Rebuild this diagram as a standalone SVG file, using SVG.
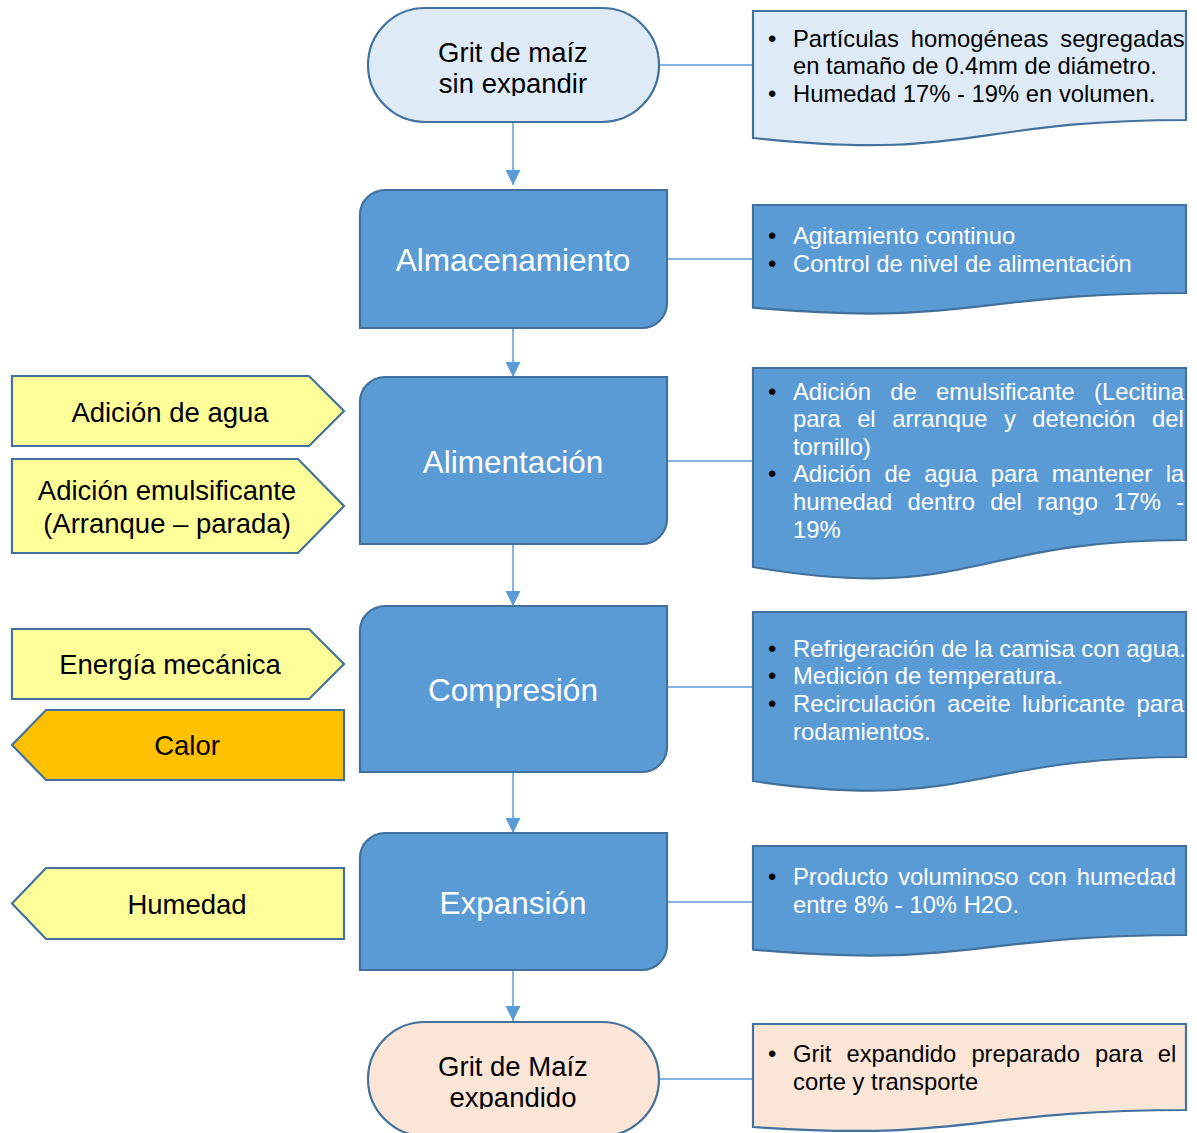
<svg xmlns="http://www.w3.org/2000/svg" width="1197" height="1133" viewBox="0 0 1197 1133">
  <style>
    .conn { stroke: #5b9bd5; stroke-width: 1.5; fill: none; }
    .shape { stroke: #41719c; stroke-width: 2.2; }
    .light { fill: #deebf7; }
    .main { fill: #5b9bd5; }
    .peach { fill: #fbe5d6; }
    .yellow { fill: #ffff99; }
    .orange { fill: #ffc000; }
    text { font-family: "Liberation Sans", Arial, sans-serif; }
    .term { font-size: 27.5px; fill: #000; text-anchor: middle; }
    .proc { font-size: 31.5px; fill: #fff; text-anchor: middle; }
    .side { font-size: 27.5px; fill: #000; text-anchor: middle; }
    .note { font-size: 23.8px; }
    .dark { fill: #000; }
    .white { fill: #fff; }
    .bul { fill: #000; font-size: 23.8px; }
  </style>
  <defs>
    <marker id="arrow" markerUnits="userSpaceOnUse" markerWidth="16" markerHeight="16" refX="15" refY="7.5" orient="auto">
      <path d="M0,0 L15,7.5 L0,15 Z" fill="#5b9bd5"/>
    </marker>
    <clipPath id="clipTop"><rect x="368" y="8" width="291" height="88"/></clipPath>
    <clipPath id="clipBottom"><rect x="368" y="1022" width="291" height="87"/></clipPath>
    <clipPath id="clipFeed"><rect x="753" y="368" width="433" height="170"/></clipPath>
  </defs>

  <!-- connectors -->
  <g id="connectors">
    <line class="conn" x1="513" y1="122" x2="513" y2="185" marker-end="url(#arrow)"/>
    <line class="conn" x1="513" y1="328" x2="513" y2="377" marker-end="url(#arrow)"/>
    <line class="conn" x1="513" y1="544" x2="513" y2="606" marker-end="url(#arrow)"/>
    <line class="conn" x1="513" y1="772" x2="513" y2="833" marker-end="url(#arrow)"/>
    <line class="conn" x1="513" y1="970" x2="513" y2="1021" marker-end="url(#arrow)"/>
    <line class="conn" x1="659" y1="65" x2="753" y2="65"/>
    <line class="conn" x1="667" y1="259" x2="753" y2="259"/>
    <line class="conn" x1="667" y1="461" x2="753" y2="461"/>
    <line class="conn" x1="667" y1="687" x2="753" y2="687"/>
    <line class="conn" x1="667" y1="902" x2="753" y2="902"/>
    <line class="conn" x1="659" y1="1079" x2="753" y2="1079"/>
  </g>

  <!-- start terminal -->
  <g id="start">
    <rect class="shape light" x="368" y="8" width="291" height="114" rx="57" ry="57"/>
    <g clip-path="url(#clipTop)">
      <text class="term" x="513" y="62">Grit de maíz</text>
      <text class="term" x="513" y="93">sin expandir</text>
    </g>
  </g>

  <g id="note-start">
    <path class="shape light" d="M753,11 H1186 V120 C969.5,120 969.5,161.6 753,138 Z"/>
    <text class="bul" x="768" y="47">•</text>
    <text class="note dark" x="793" y="47" word-spacing="5.3">Partículas homogéneas segregadas</text>
    <text class="note dark" x="793" y="74">en tamaño de 0.4mm de diámetro.</text>
    <text class="bul" x="768" y="102">•</text>
    <text class="note dark" x="793" y="102">Humedad 17% - 19% en volumen.</text>
  </g>

  <!-- storage -->
  <g id="almacenamiento">
    <path class="shape main" d="M385,190 H667 V303 A25,25 0 0 1 642,328 H360 V215 A25,25 0 0 1 385,190 Z"/>
    <text class="proc" x="513" y="271">Almacenamiento</text>
  </g>

  <g id="note-almacenamiento">
    <path class="shape main" d="M753,205 H1186 V293 C969.5,293 969.5,326.8 753,307.7 Z"/>
    <text class="bul" x="768" y="244">•</text>
    <text class="note white" x="793" y="244">Agitamiento continuo</text>
    <text class="bul" x="768" y="272">•</text>
    <text class="note white" x="793" y="272">Control de nivel de alimentación</text>
  </g>

  <!-- feeding -->
  <g id="alimentacion">
    <path class="shape main" d="M385,377 H667 V519 A25,25 0 0 1 642,544 H360 V402 A25,25 0 0 1 385,377 Z"/>
    <text class="proc" x="513" y="473">Alimentación</text>
  </g>

  <g id="in-agua">
    <path class="shape yellow" d="M12,376 H309 L344,411 L309,446 H12 Z"/>
    <text class="side" x="170" y="422">Adición de agua</text>
  </g>

  <g id="in-emulsificante">
    <path class="shape yellow" d="M12,459 H298 L344,506 L298,553 H12 Z"/>
    <text class="side" x="167" y="500">Adición emulsificante</text>
    <text class="side" x="167" y="533">(Arranque – parada)</text>
  </g>

  <g id="note-alimentacion">
    <path class="shape main" d="M753,368 H1186 V540 C969.5,540 969.5,603.8 753,567 Z"/>
    <g clip-path="url(#clipFeed)">
      <text class="bul" x="768" y="400">•</text>
      <text class="note white" x="793" y="400" word-spacing="12.6">Adición de emulsificante (Lecitina</text>
      <text class="note white" x="793" y="427" word-spacing="9.9">para el arranque y detención del</text>
      <text class="note white" x="793" y="455">tornillo)</text>
      <text class="bul" x="768" y="482">•</text>
      <text class="note white" x="793" y="482" word-spacing="6.8">Adición de agua para mantener la</text>
      <text class="note white" x="793" y="510" word-spacing="8.6">humedad dentro del rango 17% -</text>
      <text class="note white" x="793" y="538">19%</text>
    </g>
  </g>

  <!-- compression -->
  <g id="compresion">
    <path class="shape main" d="M385,606 H667 V747 A25,25 0 0 1 642,772 H360 V631 A25,25 0 0 1 385,606 Z"/>
    <text class="proc" x="513" y="701">Compresión</text>
  </g>

  <g id="in-energia">
    <path class="shape yellow" d="M12,629 H309 L344,664 L309,699 H12 Z"/>
    <text class="side" x="170" y="674">Energía mecánica</text>
  </g>

  <g id="out-calor">
    <path class="shape orange" d="M344,710 H46 L12,745 L46,780 H344 Z"/>
    <text class="side" x="187" y="755">Calor</text>
  </g>

  <g id="note-compresion">
    <path class="shape main" d="M753,612 H1186 V757 C969.5,757 969.5,812.4 753,781 Z"/>
    <text class="bul" x="768" y="657">•</text>
    <text class="note white" x="793" y="657">Refrigeración de la camisa con agua.</text>
    <text class="bul" x="768" y="684">•</text>
    <text class="note white" x="793" y="684">Medición de temperatura.</text>
    <text class="bul" x="768" y="712">•</text>
    <text class="note white" x="793" y="712" word-spacing="4.7">Recirculación aceite lubricante para</text>
    <text class="note white" x="793" y="740">rodamientos.</text>
  </g>

  <!-- expansion -->
  <g id="expansion">
    <path class="shape main" d="M385,833 H667 V945 A25,25 0 0 1 642,970 H360 V858 A25,25 0 0 1 385,833 Z"/>
    <text class="proc" x="513" y="914">Expansión</text>
  </g>

  <g id="out-humedad">
    <path class="shape yellow" d="M344,868 H46 L12,903.5 L46,939 H344 Z"/>
    <text class="side" x="187" y="914">Humedad</text>
  </g>

  <g id="note-expansion">
    <path class="shape main" d="M753,846 H1186 V935 C969.5,935 969.5,968.9 753,949.7 Z"/>
    <text class="bul" x="768" y="885">•</text>
    <text class="note white" x="793" y="885" word-spacing="3.3">Producto voluminoso con humedad</text>
    <text class="note white" x="793" y="913">entre 8% - 10% H2O.</text>
  </g>

  <!-- end terminal -->
  <g id="end">
    <rect class="shape peach" x="368" y="1022" width="291" height="114" rx="57" ry="57"/>
    <g clip-path="url(#clipBottom)">
      <text class="term" x="513" y="1076">Grit de Maíz</text>
      <text class="term" x="513" y="1107">expandido</text>
    </g>
  </g>

  <g id="note-end">
    <path class="shape peach" d="M753,1024 H1186 V1110 C969.5,1110 969.5,1142 753,1127 Z"/>
    <text class="bul" x="768" y="1062">•</text>
    <text class="note dark" x="793" y="1062" word-spacing="8.5">Grit expandido preparado para el</text>
    <text class="note dark" x="793" y="1090">corte y transporte</text>
  </g>
</svg>
